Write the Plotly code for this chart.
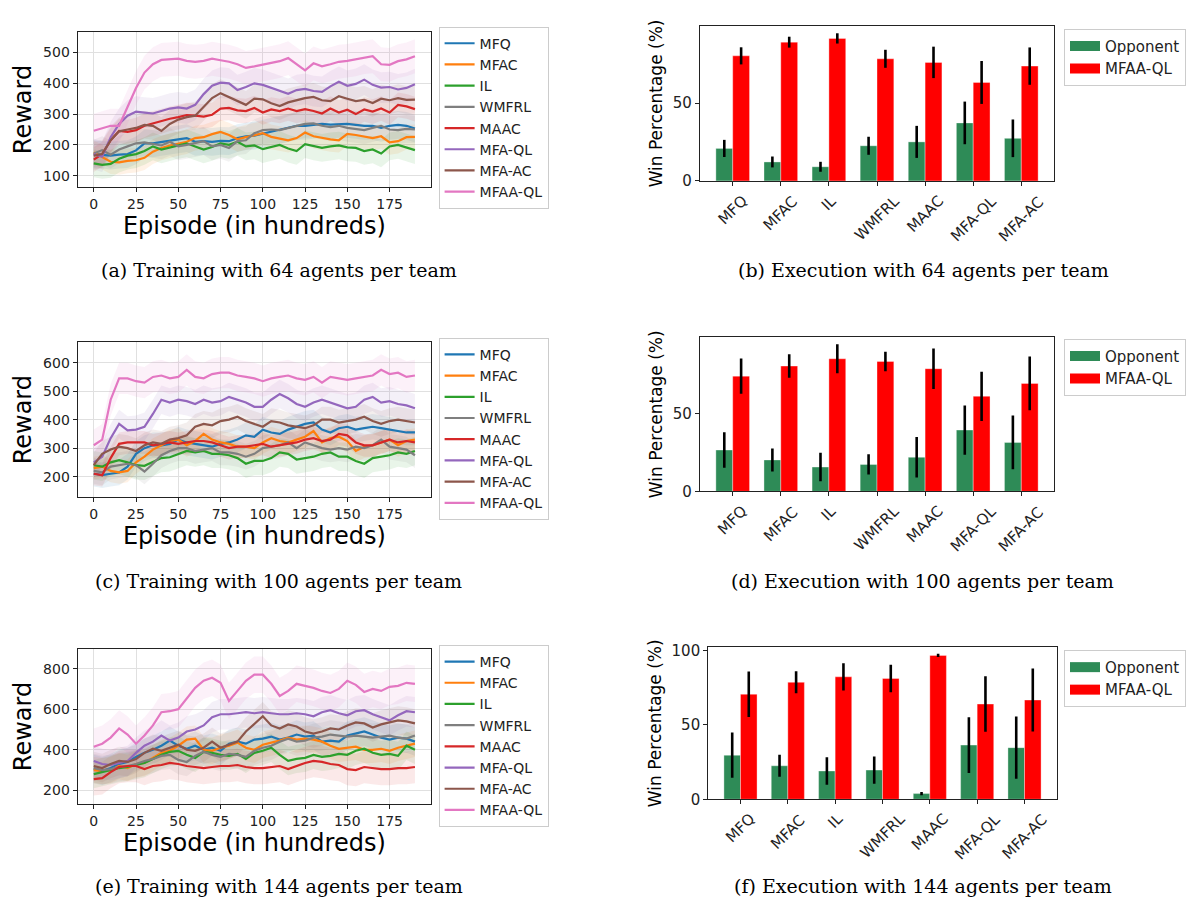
import plotly.graph_objects as go

# ---------------------------------------------------------------- data
EPISODES = list(range(0, 191, 5))          # episode index (in hundreds)
METHODS = ["MFQ", "MFAC", "IL", "WMFRL", "MAAC", "MFA-QL", "MFA-AC", "MFAA-QL"]
COLORS = ["#1f77b4", "#ff7f0e", "#2ca02c", "#7f7f7f",
          "#d62728", "#9467bd", "#8c564b", "#e377c2"]

# Training reward, 64 agents per team
MFQ_64 = [170, 168, 165, 168, 170, 182, 205, 205, 210, 215,
          218, 222, 210, 212, 210, 213, 212, 222, 228, 230,
          236, 242, 250, 256, 262, 262, 265, 268, 266, 268,
          268, 265, 262, 262, 255, 262, 265, 262, 253]
MFAC_64 = [175, 160, 145, 143, 148, 150, 158, 178, 190, 198,
           205, 210, 222, 225, 235, 242, 232, 218, 225, 232,
           238, 226, 220, 215, 222, 240, 228, 222, 218, 215,
           236, 232, 228, 222, 228, 208, 212, 225, 226]
IL_64 = [140, 135, 138, 155, 165, 170, 180, 195, 185, 192,
         200, 205, 195, 185, 193, 205, 200, 210, 195, 198,
         186, 192, 200, 188, 180, 202, 195, 190, 195, 198,
         192, 190, 180, 185, 172, 195, 200, 192, 183]
WMFRL_64 = [172, 183, 168, 185, 195, 205, 208, 202, 198, 210,
            195, 200, 205, 212, 195, 200, 190, 212, 215, 238,
            248, 250, 248, 255, 262, 268, 270, 262, 258, 262,
            255, 252, 248, 255, 262, 250, 248, 252, 250]
MAAC_64 = [152, 170, 215, 245, 242, 248, 262, 270, 276, 285,
           290, 297, 295, 292, 298, 318, 320, 312, 310, 320,
           305, 315, 310, 318, 310, 316, 310, 302, 318, 305,
           314, 300, 315, 308, 318, 305, 330, 325, 316]
MFAQL_64 = [170, 162, 225, 268, 295, 308, 305, 302, 310, 318,
            322, 318, 330, 365, 392, 402, 400, 378, 388, 400,
            395, 385, 376, 366, 378, 382, 375, 372, 390, 405,
            392, 398, 412, 395, 386, 388, 380, 385, 397]
MFAAC_64 = [165, 170, 215, 244, 250, 255, 265, 262, 245, 268,
            282, 290, 295, 325, 352, 368, 355, 342, 330, 350,
            348, 335, 326, 338, 345, 352, 356, 345, 342, 358,
            350, 342, 346, 336, 350, 345, 352, 346, 347]
MFAAQL_64 = [246, 255, 262, 262, 325, 385, 435, 462, 476, 478,
             480, 473, 470, 473, 480, 475, 470, 462, 450, 455,
             460, 466, 472, 482, 462, 442, 465, 455, 462, 470,
             473, 478, 485, 488, 462, 460, 472, 478, 488]
STD_64 = [45, 40, 45, 45, 40, 50, 45, 55]

# Training reward, 100 agents per team
MFQ_100 = [210, 205, 210, 215, 235, 280, 300, 310, 310, 315,
           330, 320, 315, 310, 305, 315, 320, 330, 345, 340,
           365, 355, 350, 365, 375, 385, 390, 365, 355, 370,
           375, 365, 370, 375, 370, 365, 360, 355, 355]
MFAC_100 = [230, 235, 220, 215, 220, 250, 270, 295, 310, 325,
            330, 310, 325, 350, 330, 320, 315, 305, 305, 300,
            320, 335, 325, 320, 330, 340, 360, 320, 335, 340,
            325, 290, 305, 310, 320, 330, 310, 325, 330]
IL_100 = [240, 235, 250, 258, 250, 240, 238, 252, 265, 268,
          278, 290, 285, 290, 280, 280, 275, 265, 245, 255,
          255, 265, 285, 280, 260, 265, 270, 280, 285, 270,
          270, 255, 245, 265, 270, 275, 285, 280, 290]
WMFRL_100 = [220, 215, 235, 240, 245, 240, 218, 245, 275, 290,
             300, 300, 290, 295, 300, 285, 285, 280, 270, 280,
             300, 305, 310, 320, 300, 320, 310, 300, 295, 300,
             295, 305, 300, 310, 330, 305, 300, 295, 275]
MAAC_100 = [210, 205, 265, 315, 320, 320, 320, 310, 315, 320,
            315, 320, 325, 325, 320, 310, 300, 305, 305, 310,
            315, 305, 310, 315, 320, 330, 335, 325, 330, 350,
            345, 320, 310, 310, 320, 330, 320, 325, 320]
MFAQL_100 = [250, 270, 335, 385, 362, 365, 375, 420, 470, 460,
             470, 465, 455, 470, 460, 465, 480, 470, 460, 445,
             445, 470, 490, 475, 455, 445, 460, 470, 460, 450,
             440, 445, 470, 480, 460, 465, 455, 450, 440]
MFAAC_100 = [240, 280, 295, 305, 300, 290, 310, 320, 315, 330,
             335, 345, 375, 385, 380, 395, 400, 410, 395, 385,
             375, 395, 390, 380, 375, 370, 380, 400, 400, 390,
             395, 400, 410, 395, 385, 395, 400, 395, 390]
MFAAQL_100 = [310, 330, 470, 545, 545, 535, 530, 550, 555, 545,
              550, 575, 550, 545, 560, 565, 565, 555, 550, 545,
              535, 545, 550, 555, 545, 540, 550, 530, 550, 545,
              540, 545, 550, 555, 575, 560, 565, 550, 555]
STD_100 = [45, 40, 50, 45, 40, 50, 45, 55]

# Training reward, 144 agents per team
MFQ_144 = [305, 295, 310, 330, 340, 365, 385, 400, 420, 445,
           420, 405, 420, 400, 410, 395, 430, 440, 430, 450,
           455, 465, 450, 460, 475, 465, 470, 440, 445, 440,
           470, 480, 490, 475, 460, 450, 460, 455, 440]
MFAC_144 = [300, 295, 300, 320, 310, 330, 335, 360, 385, 395,
            420, 450, 455, 400, 395, 410, 420, 435, 410, 400,
            425, 435, 445, 460, 450, 455, 450, 440, 420, 405,
            410, 415, 400, 400, 405, 395, 410, 420, 430]
IL_144 = [280, 290, 300, 310, 315, 325, 335, 355, 375, 390,
          395, 375, 360, 390, 385, 375, 370, 380, 355, 385,
          395, 410, 375, 345, 355, 360, 375, 365, 370, 380,
          375, 395, 405, 385, 375, 380, 370, 420, 400]
WMFRL_144 = [310, 300, 305, 315, 320, 330, 345, 355, 370, 375,
             350, 340, 370, 390, 375, 365, 380, 375, 365, 395,
             410, 420, 440, 455, 440, 445, 460, 465, 475, 470,
             465, 470, 465, 460, 465, 470, 460, 455, 470]
MAAC_144 = [255, 260, 290, 315, 320, 320, 305, 320, 325, 335,
            330, 320, 315, 310, 315, 320, 320, 325, 315, 310,
            310, 315, 320, 305, 320, 335, 345, 340, 330, 325,
            305, 300, 315, 310, 305, 305, 310, 310, 315]
MFAQL_144 = [345, 330, 325, 335, 345, 385, 420, 440, 470, 445,
             460, 490, 500, 520, 560, 575, 575, 580, 585, 580,
             585, 580, 575, 575, 580, 575, 565, 585, 595, 580,
             570, 590, 595, 575, 560, 545, 570, 590, 585]
MFAAC_144 = [320, 310, 330, 345, 340, 355, 385, 405, 395, 410,
             425, 400, 395, 410, 440, 410, 425, 440, 490, 530,
             565, 520, 505, 525, 515, 490, 480, 490, 505, 500,
             520, 535, 530, 510, 525, 535, 545, 540, 530]
MFAAQL_144 = [415, 430, 460, 505, 475, 430, 470, 520, 585, 590,
              600, 650, 705, 740, 755, 730, 640, 690, 740, 770,
              770, 725, 665, 690, 725, 715, 705, 690, 680, 700,
              740, 720, 685, 700, 690, 710, 715, 730, 725]
STD_144 = [70, 65, 70, 70, 80, 75, 70, 90]

# Execution win percentage (mean, std) against each opponent
OPPONENTS = ["MFQ", "MFAC", "IL", "WMFRL", "MAAC", "MFA-QL", "MFA-AC"]
OPP_WIN_64 = [20.9, 12.2, 9.1, 22.6, 25.1, 37.3, 27.4]
OPP_ERR_64 = [5.5, 3.5, 3.2, 5.8, 10.3, 13.7, 12.1]
OURS_WIN_64 = [80.4, 89.2, 91.6, 78.5, 76.2, 63.3, 73.8]
OURS_ERR_64 = [5.5, 3.5, 3.3, 5.8, 10.1, 13.8, 12.0]
OPP_WIN_100 = [26.7, 20.3, 15.7, 17.4, 22.0, 39.6, 31.6]
OPP_ERR_100 = [11.4, 7.4, 9.2, 6.5, 13.1, 15.9, 17.3]
OURS_WIN_100 = [74.4, 80.9, 85.6, 83.9, 79.2, 61.4, 69.7]
OURS_ERR_100 = [11.3, 7.6, 9.3, 6.3, 13.1, 15.9, 17.3]
OPP_WIN_144 = [29.6, 22.5, 19.0, 19.6, 3.8, 36.4, 34.7]
OPP_ERR_144 = [15.2, 7.4, 9.3, 9.2, 1.1, 18.7, 21.0]
OURS_WIN_144 = [70.6, 78.6, 82.3, 81.2, 96.7, 64.0, 66.7]
OURS_ERR_144 = [15.3, 7.4, 9.2, 9.2, 1.1, 18.7, 21.2]

TRAINING = [
    ([MFQ_64, MFAC_64, IL_64, WMFRL_64, MAAC_64, MFAQL_64, MFAAC_64, MFAAQL_64], STD_64),
    ([MFQ_100, MFAC_100, IL_100, WMFRL_100, MAAC_100, MFAQL_100, MFAAC_100, MFAAQL_100], STD_100),
    ([MFQ_144, MFAC_144, IL_144, WMFRL_144, MAAC_144, MFAQL_144, MFAAC_144, MFAAQL_144], STD_144),
]
EXECUTION = [
    (OPP_WIN_64, OPP_ERR_64, OURS_WIN_64, OURS_ERR_64),
    (OPP_WIN_100, OPP_ERR_100, OURS_WIN_100, OURS_ERR_100),
    (OPP_WIN_144, OPP_ERR_144, OURS_WIN_144, OURS_ERR_144),
]
for series, _ in TRAINING:
    for s in series:
        if len(s) != len(EPISODES):
            raise ValueError("series length %d" % len(s))

CAPTIONS = [
    "(a) Training with 64 agents per team", "(b) Execution with 64 agents per team",
    "(c) Training with 100 agents per team", "(d) Execution with 100 agents per team",
    "(e) Training with 144 agents per team", "(f) Execution with 144 agents per team",
]

# ---------------------------------------------------------------- layout geometry (px)
W, H = 1194, 907
LINE_X = (77.7, 431.0)
LINE_Y = [(27.3, 185.0), (342.3, 500.0), (654.0, 811.7)]
LINE_YRANGE = [(62.6, 567.2), (127.4, 672.6), (132.0, 897.0)]
LINE_YTICKS = [[100, 200, 300, 400, 500], [200, 300, 400, 500, 600], [200, 400, 600, 800]]
LINE_LEGEND_TOP = [22.0, 338.0, 650.0]
BAR_X = [(700.0, 1054.0), (700.0, 1054.0), (708.3, 1056.7)]
BAR_Y = [(21.3, 178.7), (337.3, 494.0), (652.3, 806.7)]
BAR_YRANGE = [99.6, 99.6, 102.2]
BAR_YTICKS = [[0, 50], [0, 50], [0, 50, 100]]
BAR_LEGEND_TOP = [24.0, 339.0, 655.0]
CAPTION_POS = [(278.6, 269), (923, 269), (278, 585), (922, 585), (278.6, 895), (923, 895)]

# glyph advance widths (em) of DejaVu Sans, used to centre rotated labels
GLYPH_EM = {"M": 0.863, "F": 0.575, "Q": 0.787, "A": 0.684, "C": 0.698, "I": 0.295,
            "L": 0.557, "W": 0.989, "R": 0.695, "-": 0.361}
TICK_FONT = 15


def xdom(a, b):
    return [a / W, b / W]


def ydom(top, bottom):
    return [1 - bottom / H, 1 - top / H]


def rgba(hex_color, alpha):
    h = hex_color.lstrip("#")
    r, g, b = int(h[0:2], 16), int(h[2:4], 16), int(h[4:6], 16)
    return "rgba(%d,%d,%d,%.2f)" % (r, g, b, alpha)


def rotated_label_drop(text):
    # distance from the axis line to the centre of a 45-degree label whose top sits 13 px below
    width = sum(GLYPH_EM.get(c, 0.6) for c in text) * TICK_FONT
    return 13.5 + (width + 0.72 * TICK_FONT) * 0.7071 / 2


FONT = "DejaVu Sans"
fig = go.Figure()
layout = dict(
    width=W, height=H, margin=dict(l=0, r=0, t=0, b=0),
    paper_bgcolor="white", plot_bgcolor="white",
    font=dict(family=FONT, color="#222222"),
    barmode="group", bargap=0.3, bargroupgap=0.0,
    showlegend=True,
)
annotations = []

frame = dict(showline=True, mirror=True, linecolor="#222222", linewidth=1.2,
             ticks="outside", ticklen=4, tickwidth=1.1, tickcolor="#222222",
             zeroline=False)

for row in range(3):
    # ---------------- training curves (left column)
    k = 2 * row + 1
    xa, ya = "x%d" % k if k > 1 else "x", "y%d" % k if k > 1 else "y"
    leg = "legend%d" % k if k > 1 else "legend"
    series, std = TRAINING[row]
    for i, s in enumerate(series):
        upper = [v + std[i] for v in s]
        lower = [v - std[i] for v in s]
        fig.add_trace(go.Scatter(
            x=EPISODES + EPISODES[::-1], y=upper + lower[::-1],
            fill="toself", fillcolor=rgba(COLORS[i], 0.10),
            line=dict(width=0), mode="lines", hoverinfo="skip",
            showlegend=False, xaxis=xa, yaxis=ya))
    for i, s in enumerate(series):
        fig.add_trace(go.Scatter(
            x=EPISODES, y=s, mode="lines", name=METHODS[i],
            line=dict(color=COLORS[i], width=2.2),
            legend=leg, xaxis=xa, yaxis=ya))

    layout["xaxis%d" % k if k > 1 else "xaxis"] = dict(
        domain=xdom(*LINE_X), anchor=ya, range=[-9.5, 199.5],
        tickvals=[0, 25, 50, 75, 100, 125, 150, 175],
        tickfont=dict(size=14, family=FONT),
        showgrid=True, gridcolor="#e0e0e0", gridwidth=1,
        title=dict(text="Episode (in hundreds)", font=dict(size=24, family=FONT, color="black"),
                   standoff=4),
        **frame)
    layout["yaxis%d" % k if k > 1 else "yaxis"] = dict(
        domain=ydom(*LINE_Y[row]), anchor=xa, range=list(LINE_YRANGE[row]),
        tickvals=LINE_YTICKS[row], tickfont=dict(size=14, family=FONT),
        showgrid=True, gridcolor="#e0e0e0", gridwidth=1,
        title=dict(text="Reward", font=dict(size=24, family=FONT, color="black"), standoff=4),
        **frame)
    layout[leg] = dict(
        x=438.6 / W, y=1 - LINE_LEGEND_TOP[row] / H, xanchor="left", yanchor="top",
        bgcolor="rgba(255,255,255,0.85)", bordercolor="#cccccc", borderwidth=1,
        font=dict(size=14, family=FONT, color="#222222"))

    # ---------------- execution win rates (right column)
    k = 2 * row + 2
    xa, ya = "x%d" % k, "y%d" % k
    leg = "legend%d" % k
    opp, opp_err, ours, ours_err = EXECUTION[row]
    fig.add_trace(go.Bar(
        x=OPPONENTS, y=opp, name="Opponent", showlegend=False,
        marker=dict(color="#2e8b57", line=dict(width=1, color="rgba(255,255,255,0.35)")),
        error_y=dict(type="data", array=opp_err, color="black", thickness=2.6, width=0),
        xaxis=xa, yaxis=ya))
    fig.add_trace(go.Bar(
        x=OPPONENTS, y=ours, name="MFAA-QL", showlegend=False,
        marker=dict(color="#ff0000", line=dict(width=1, color="rgba(255,255,255,0.35)")),
        error_y=dict(type="data", array=ours_err, color="black", thickness=2.6, width=0),
        xaxis=xa, yaxis=ya))
    # legend swatches drawn as wide patches
    for name, col in (("Opponent", "#2e8b57"), ("MFAA-QL", "#ff0000")):
        fig.add_trace(go.Scatter(
            x=[None], y=[None], mode="lines", name=name,
            line=dict(color=col, width=10), legend=leg, xaxis=xa, yaxis=ya))

    layout["xaxis%d" % k] = dict(
        domain=xdom(*BAR_X[row]), anchor=ya, type="category",
        categoryorder="array", categoryarray=OPPONENTS,
        range=[-0.68, 6.68], showticklabels=False, showgrid=False, **frame)
    layout["yaxis%d" % k] = dict(
        domain=ydom(*BAR_Y[row]), anchor=xa, range=[0, BAR_YRANGE[row]],
        tickvals=BAR_YTICKS[row], tickfont=dict(size=15, family=FONT), showgrid=False,
        title=dict(text="Win Percentage (%)", font=dict(size=17, family=FONT, color="black"),
                   standoff=5),
        **frame)
    layout[leg] = dict(
        x=1064 / W, y=1 - BAR_LEGEND_TOP[row] / H, xanchor="left", yanchor="top",
        bgcolor="rgba(255,255,255,0.85)", bordercolor="#cccccc", borderwidth=1,
        font=dict(size=15, family=FONT, color="#222222"))
    # rotated category labels, centred under each tick
    for name in OPPONENTS:
        annotations.append(dict(
            x=name, xref=xa, y=0, yref="%s domain" % ya,
            text=name, textangle=-45, showarrow=False,
            xanchor="center", yanchor="middle", yshift=-rotated_label_drop(name),
            font=dict(size=TICK_FONT, family=FONT, color="#222222")))

for text, (cx, cy) in zip(CAPTIONS, CAPTION_POS):
    annotations.append(dict(
        x=cx / W, y=1 - cy / H, xref="paper", yref="paper",
        text=text, showarrow=False, xanchor="center", yanchor="middle",
        font=dict(size=19, family="DejaVu Serif", color="black")))

layout["annotations"] = annotations
fig.update_layout(**layout)
fig.write_html("out.html")
